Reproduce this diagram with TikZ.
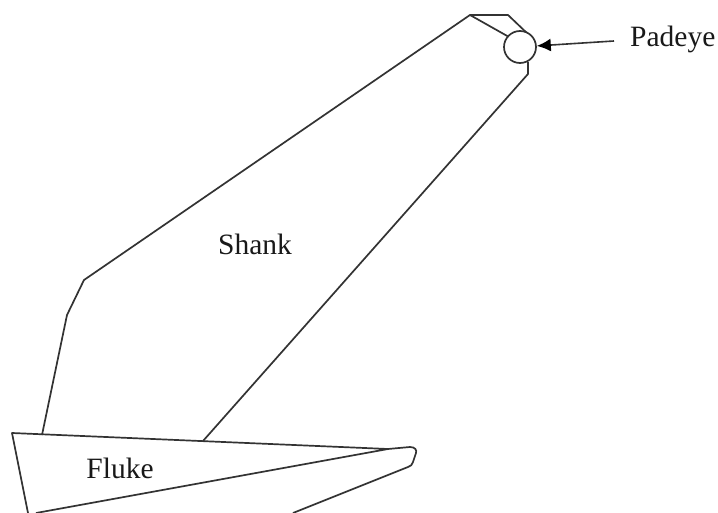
\documentclass[tikz,border=0pt]{standalone}
\usepackage{fontspec}
\setmainfont{Liberation Serif}
\usetikzlibrary{arrows.meta}
\tikzset{outline/.style={draw=black!80,line width=1.7pt,line join=round},
 lbl/.style={inner sep=0pt,font=\fontsize{29.5}{36}\selectfont,text=black!90}}
\begin{document}
\begin{tikzpicture}[x=1pt,y=-1pt]
\useasboundingbox (0,0) rectangle (718,513);
\clip (0,0) rectangle (718,513);
\fill[white] (0,0) rectangle (718,513);
\coordinate (topL) at (470,15);
\coordinate (topR) at (508,15);
\coordinate (flukeTL) at (12,433);
\coordinate (flukeJ) at (388,449);
\draw[outline] (509,37) -- (topL) -- (topR) -- (529,35);
\draw[outline] (topL) -- (84,280) -- (67,315) -- (42,435);
\draw[outline] (528,62) -- (528,74) -- (203,441);
\draw[outline] (28,513) -- (flukeTL) -- (flukeJ) -- (36,513);
\draw[outline] (flukeJ) -- (410,447) .. controls (415,447) and (417,450) .. (416,453) -- (413,462) .. controls (412,465) and (411,466) .. (408,467) -- (293,513);
\node[circle,draw=black!80,line width=1.7pt,fill=white,minimum size=32pt,inner sep=0pt] (eye) at (520,47) {};
\coordinate (tail) at (614,41);
\draw[line width=1.6pt,black!80,-{Latex[length=14pt,width=13pt,black]}] (tail) -- (eye);
\node[lbl,anchor=west] (pad) at (630,39) {Padeye};
\node[lbl] (shank) at (255,244) {Shank};
\node[lbl] (fluke) at (120,468) {Fluke};
\end{tikzpicture}
\end{document}
